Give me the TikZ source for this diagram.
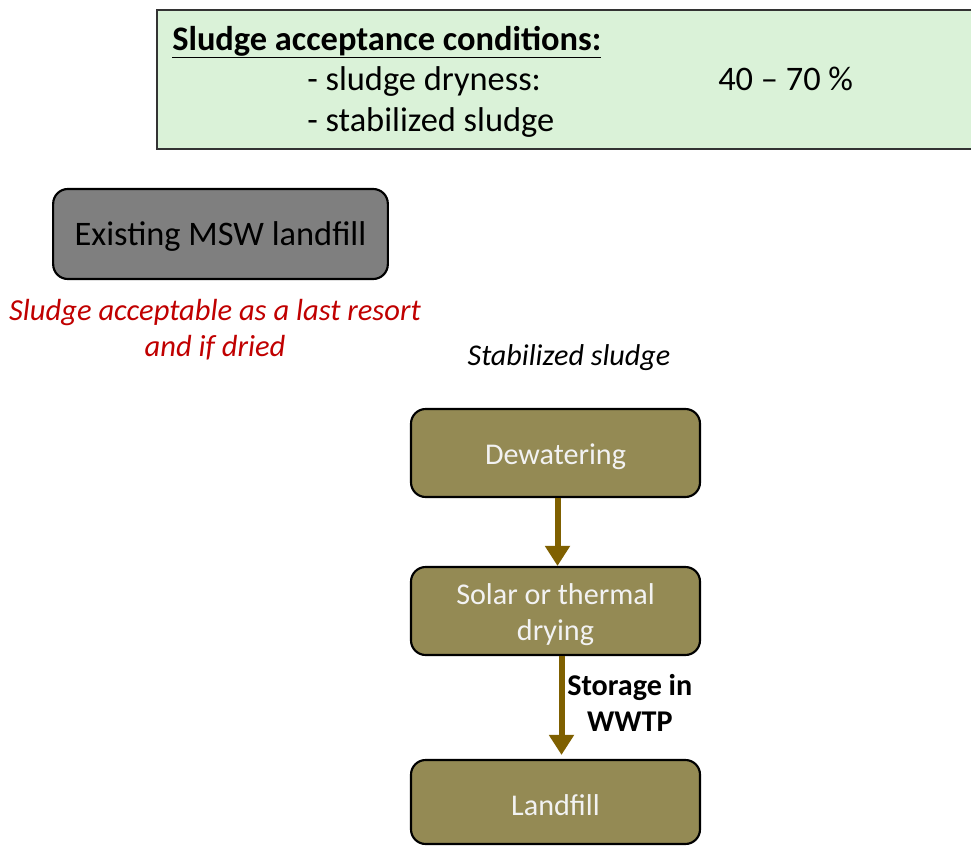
\documentclass[tikz,border=0pt]{standalone}
\usepackage{fontspec}
\setmainfont{Carlito}
\usetikzlibrary{arrows.meta}
\definecolor{condfill}{HTML}{DAF2D8}
\definecolor{olivebox}{HTML}{948A54}
\definecolor{arrowbrown}{HTML}{7F6000}
\definecolor{greybox}{HTML}{7F7F7F}
\definecolor{notered}{HTML}{C00000}
\definecolor{boxtext}{HTML}{F2F2F2}
\tikzset{
  stagebox/.style={draw=black, line width=1.6pt, fill=olivebox, rounded corners=11pt,
    minimum width=216.75pt, minimum height=66pt, inner sep=0pt},
  stagetext/.style={inner sep=0pt, align=center, text=boxtext,
    font=\fontsize{22.6}{27}\selectfont},
  condtext/.style={anchor=base west, inner sep=0pt, font=\fontsize{25.8}{30}\selectfont},
  flowarrow/.style={draw=arrowbrown, line width=4.5pt,
    -{Triangle[length=15pt,width=18pt]}},
}
\begin{document}
\begin{tikzpicture}[x=0.75pt, y=-0.75pt]
\useasboundingbox (0,0) rectangle (971,846);

% acceptance conditions panel
\draw[fill=condfill, draw=black!80, line width=1.2pt] (157,10) rectangle (985,149);
\node[condtext, font=\fontsize{25.8}{30}\selectfont\bfseries] (title)
  at (172,50) {\underline{Sludge acceptance conditions:}};
\node[condtext] (dry) at (307,90.5) {- sludge dryness:};
\node[condtext] (range) at (718,90.5) {40 – 70 \%};
\node[condtext] (stab) at (307,131) {- stabilized sludge};

% existing landfill
\node[draw=black, line width=1.6pt, fill=greybox, rounded corners=11pt,
  minimum width=251pt, minimum height=67.5pt, inner sep=0pt] (msw) at (220.5,234) {};
\node[inner sep=0pt, font=\fontsize{25.8}{30}\selectfont] (mswtext)
  at ([yshift=-2pt]msw.center) {Existing MSW landfill};
\node[align=center, text=notered, inner sep=0pt,
  font=\fontsize{22.9}{27}\selectfont\itshape] (note) at (215,330)
  {Sludge acceptable as a last resort\\and if dried};

% treatment chain
\node[inner sep=0pt, font=\fontsize{22.6}{27}\selectfont\itshape] (stabsl) at (569,358) {Stabilized sludge};
\node[stagebox] (dew) at (555.5,453) {};
\node[stagetext] (dewtext) at ([yshift=-2.5pt]dew.center) {Dewatering};
\node[stagebox] (dry2) at (555.5,611) {};
\node[stagetext] (dry2text) at ([yshift=-2.5pt]dry2.center) {Solar or thermal\\drying};
\node[stagebox, minimum height=63pt] (land) at (555.5,802) {};
\node[stagetext] (landtext) at ([yshift=-2.5pt]land.center) {Landfill};

\draw[flowarrow] ([xshift=1.5pt]dew.south) -- ([xshift=1.5pt]dry2.north);
\draw[flowarrow] ([xshift=4.5pt]dry2.south) -- ([xshift=4.5pt,yshift=3pt]land.north);
\node[anchor=north west, align=center, inner sep=0pt,
  font=\fontsize{22.6}{27}\selectfont\bfseries] (storage) at (567,674) {Storage in\\WWTP};
\end{tikzpicture}
\end{document}
